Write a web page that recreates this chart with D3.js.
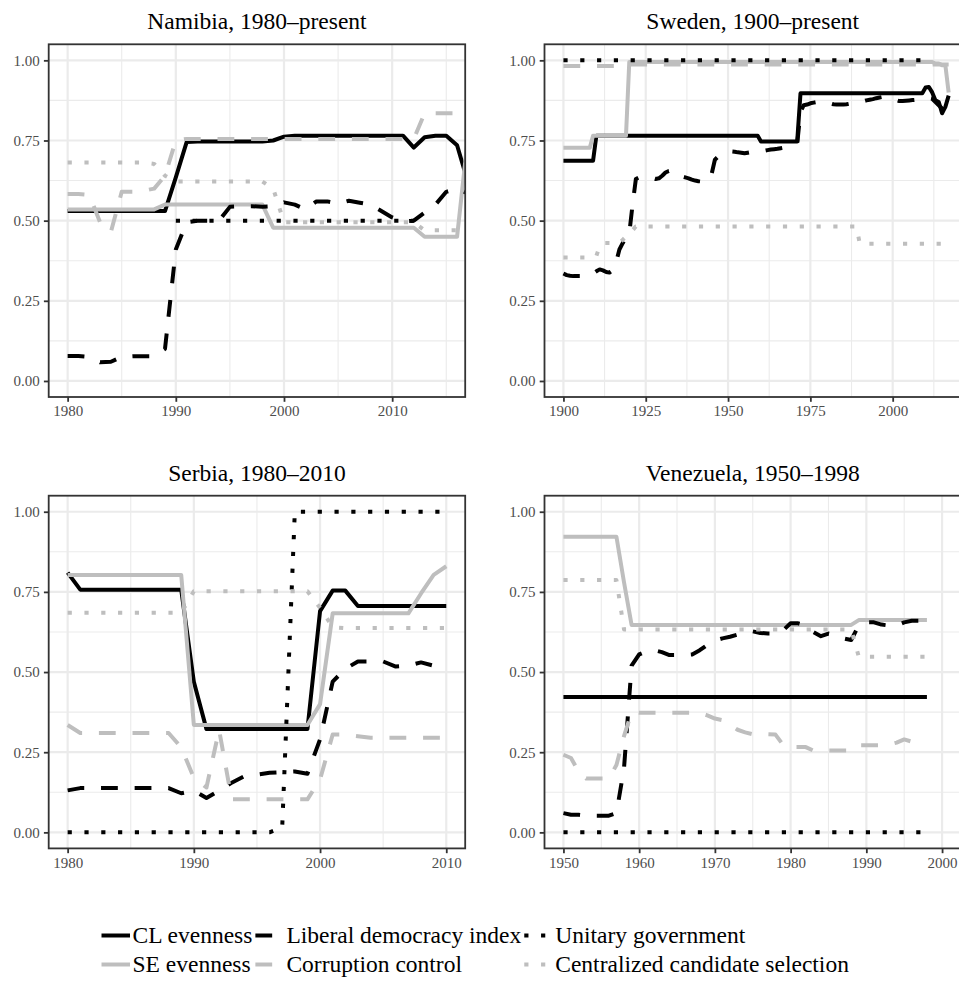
<!DOCTYPE html>
<html>
<head>
<meta charset="UTF-8">
<title>Evenness panels</title>
<script src="https://d3js.org/d3.v7.min.js"></script>
<style>
  body { margin: 0; background: #fff; }
  svg text { font-family: "Liberation Serif", "Times New Roman", serif; }
</style>
</head>
<body>
<div id="chart"></div>
<script>
(function(d3) {

    // series, in factor order (legend fills column by column)
    var seriesNames = ['CL evenness', 'SE evenness', 'Liberal democracy index',
        'Corruption control', 'Unitary government', 'Centralized candidate selection'];

    var yTicks = [0, 0.25, 0.5, 0.75, 1];

    // Namibia, yearly from 1980
    var namibiaStart = 1980;
    var namibiaTicks = [1980, 1990, 2000, 2010];
    var namibiaCL = [
        .53, .53, .53, .53, .53, .53, .53, .53, .53, .53,
        .635, .745, .747, .747, .747, .747, .747, .747, .747, .75,
        .762, .765, .765, .765, .765, .765, .765, .765, .765, .765,
        .765, .765, .728, .76, .765, .765, .735, .62];
    var namibiaSE = [
        .535, .535, .535, .535, .535, .535, .535, .535, .535, .55,
        .55, .55, .55, .55, .55, .55, .55, .55, .55, .478,
        .478, .478, .478, .478, .478, .478, .478, .478, .478, .478,
        .478, .478, .478, .45, .45, .45, .45, .76];
    var namibiaLDI = [
        .078, .078, .075, .058, .06, .075, .077, .077, .077, .10,
        .41, .495, .50, .50, .50, .543, .545, .545, .543, .545,
        .557, .55, .535, .56, .56, .553, .562, .556, .55, .53,
        .51, .498, .50, .525, .55, .59, .60, .585];
    var namibiaCorruption = [
        .583, .583, .58, .495, .465, .59, .59, .593, .60, .64,
        .75, .755, .755, .755, .755, .755, .755, .755, .755, .755,
        .755, .755, .755, .755, .755, .755, .755, .755, .755, .755,
        .755, .755, .755, .835, .835, .835, .835, .835];
    var namibiaUnitary = [
        null, null, null, null, null, null, null, null, null, null,
        .5, .5, .5, .5, .5, .5, .5, .5, .5, .5,
        .5, .5, .5, .5, .5, .5, .5, .5, .5, .5,
        .5, .5, .5, null, null, null, null, null];
    var namibiaCentralized = [
        .681, .681, .681, .681, .681, .681, .681, .681, .677, .64,
        .622, .622, .622, .622, .622, .622, .622, .622, .622, .60,
        .495, .495, .495, .495, .495, .495, .495, .495, .495, .495,
        .495, .495, .495, .47, .47, .47, .47, .45];

    // Sweden, yearly from 1900
    var swedenStart = 1900;
    var swedenTicks = [1900, 1925, 1950, 1975, 2000];
    var swedenCL = [
        .687, .687, .687, .687, .687, .687, .687, .687, .687, .687,
        .765, .765, .765, .765, .765, .765, .765, .765, .765, .765,
        .765, .765, .765, .765, .765, .765, .765, .765, .765, .765,
        .765, .765, .765, .765, .765, .765, .765, .765, .765, .765,
        .765, .765, .765, .765, .765, .765, .765, .765, .765, .765,
        .765, .765, .765, .765, .765, .765, .765, .765, .765, .765,
        .747, .747, .747, .747, .747, .747, .747, .747, .747, .747,
        .747, .747, .897, .897, .897, .897, .897, .897, .897, .897,
        .897, .897, .897, .897, .897, .897, .897, .897, .897, .897,
        .897, .897, .897, .897, .897, .897, .897, .897, .897, .897,
        .897, .897, .897, .897, .897, .897, .897, .897, .897, .897,
        .915, .917, .90, .875, .87, .835, .855, .89];
    var swedenSE = [
        .727, .727, .727, .727, .727, .727, .727, .727, .727, .765,
        .765, .765, .765, .765, .765, .765, .765, .765, .765, .765,
        .995, .995, .995, .995, .995, .995, .995, .995, .995, .995,
        .995, .995, .995, .995, .995, .995, .995, .995, .995, .995,
        .995, .995, .995, .995, .995, .995, .995, .995, .995, .995,
        .995, .995, .995, .995, .995, .995, .995, .995, .995, .995,
        .995, .995, .995, .995, .995, .995, .995, .995, .995, .995,
        .995, .995, .995, .995, .995, .995, .995, .995, .995, .995,
        .995, .995, .995, .995, .995, .995, .995, .995, .995, .995,
        .995, .995, .995, .995, .995, .995, .995, .995, .995, .995,
        .995, .995, .995, .995, .995, .995, .995, .995, .995, .995,
        .995, .995, .995, .99, .99, .985, .985, .90];
    var swedenLDI = [
        .335, .33, .328, .327, .327, .327, .327, .327, .33, .335,
        .342, .348, .345, .34, .338, .345, .37, .41, .43, .445,
        .46, .55, .63, .635, .636, .636, .635, .633, .63, .632,
        .64, .65, .655, .657, .652, .645, .638, .635, .632, .628,
        .625, .623, .622, .622, .625, .645, .69, .70, .706, .71,
        .715, .716, .715, .713, .712, .71, .712, .714, .715, .716,
        .717, .718, .72, .722, .723, .724, .726, .728, .73, .733,
        .736, .74, .84, .86, .862, .866, .868, .87, .87, .871,
        .87, .866, .863, .862, .862, .862, .863, .865, .866, .868,
        .87, .872, .875, .877, .879, .882, .884, .886, .886, .884,
        .88, .876, .873, .873, .874, .875, .876, .877, .878, .879,
        .88, .882, .88, .87, .86, .85, .865, .885];
    var swedenCorruption = [
        .982, .982, .982, .982, .982, .982, .982, .982, .982, .982,
        .982, .982, .982, .982, .982, .982, .982, .982, .982, .982,
        .987, .987, .987, .987, .987, .987, .987, .987, .987, .987,
        .987, .987, .987, .987, .987, .987, .987, .987, .987, .987,
        .987, .987, .987, .987, .987, .987, .987, .987, .987, .987,
        .987, .987, .987, .987, .987, .987, .987, .987, .987, .987,
        .987, .987, .987, .987, .987, .987, .987, .987, .987, .987,
        .987, .987, .987, .987, .987, .987, .987, .987, .987, .987,
        .987, .987, .987, .987, .987, .987, .987, .987, .987, .987,
        .987, .987, .987, .987, .987, .987, .987, .987, .987, .987,
        .987, .987, .987, .987, .987, .987, .987, .987, .987, .987,
        .987, .987, .987, .987, .987, .987, .987, .987];
    var swedenUnitary = [
        1, 1, 1, 1, 1, 1, 1, 1, 1, 1,
        1, 1, 1, 1, 1, 1, 1, 1, 1, 1,
        1, 1, 1, 1, 1, 1, 1, 1, 1, 1,
        1, 1, 1, 1, 1, 1, 1, 1, 1, 1,
        1, 1, 1, 1, 1, 1, 1, 1, 1, 1,
        1, 1, 1, 1, 1, 1, 1, 1, 1, 1,
        1, 1, 1, 1, 1, 1, 1, 1, 1, 1,
        1, 1, 1, 1, 1, 1, 1, 1, 1, 1,
        1, 1, 1, 1, 1, 1, 1, 1, 1, 1,
        1, 1, 1, 1, 1, 1, 1, 1, 1, 1,
        1, 1, 1, 1, 1, 1, 1, 1, 1, 1,
        1, 1, 1, null, null, null, null, null];
    var swedenCentralized = [
        .385, .385, .385, .385, .385, .385, .385, .385, .385, .385,
        .39, .42, .43, .43, .43, .43, .43, .43, .44, .45,
        .456, .47, .482, .482, .482, .482, .482, .482, .482, .482,
        .482, .482, .482, .482, .482, .482, .482, .482, .482, .482,
        .482, .482, .482, .482, .482, .482, .482, .482, .482, .482,
        .482, .482, .482, .482, .482, .482, .482, .482, .482, .482,
        .482, .482, .482, .482, .482, .482, .482, .482, .482, .482,
        .482, .482, .482, .482, .482, .482, .482, .482, .482, .482,
        .482, .482, .482, .482, .482, .482, .482, .482, .482, .482,
        .428, .428, .428, .428, .428, .428, .428, .428, .428, .428,
        .428, .428, .428, .428, .428, .428, .428, .428, .428, .428,
        .428, .428, .428, .428, .428, .428, .428, .425];

    // Serbia, yearly from 1980
    var serbiaStart = 1980;
    var serbiaTicks = [1980, 1990, 2000, 2010];
    var serbiaCL = [
        .81, .757, .757, .757, .757, .757, .757, .757, .757, .757,
        .47, .322, .322, .322, .322, .322, .322, .322, .322, .322,
        .69, .754, .754, .706, .706, .706, .706, .706, .706, .706,
        .706];
    var serbiaSE = [
        .803, .803, .803, .803, .803, .803, .803, .803, .803, .803,
        .335, .335, .335, .335, .335, .335, .335, .335, .335, .335,
        .40, .683, .683, .683, .683, .683, .683, .683, .745, .803,
        .83];
    var serbiaLDI = [
        .131, .138, .138, .138, .138, .138, .138, .138, .138, .122,
        .13, .107, .13, .155, .175, .18, .186, .188, .19, .183,
        .29, .47, .51, .533, .533, .533, .517, .52, .53, .52,
        .505];
    var serbiaCorruption = [
        .335, .31, .31, .31, .31, .31, .31, .31, .31, .265,
        .17, .14, .32, .103, .103, .103, .103, .103, .103, .103,
        .165, .305, .305, .30, .295, .295, .295, .295, .295, .295,
        .295];
    var serbiaUnitary = [
        0, 0, 0, 0, 0, 0, 0, 0, 0, 0,
        0, 0, 0, 0, 0, 0, 0, .015, 1, 1,
        1, 1, 1, 1, 1, 1, 1, 1, 1, 1,
        1];
    var serbiaCentralized = [
        .685, .685, .685, .685, .685, .685, .685, .685, .685, .685,
        .752, .752, .752, .752, .752, .752, .752, .752, .752, .752,
        .70, .64, .637, .637, .637, .637, .637, .637, .637, .637,
        .637];

    // Venezuela, yearly from 1950
    var venezuelaStart = 1950;
    var venezuelaTicks = [1950, 1960, 1970, 1980, 1990, 2000];
    var venezuelaCL = [
        .422, .422, .422, .422, .422, .422, .422, .422, .422, .422,
        .422, .422, .422, .422, .422, .422, .422, .422, .422, .422,
        .422, .422, .422, .422, .422, .422, .422, .422, .422, .422,
        .422, .422, .422, .422, .422, .422, .422, .422, .422, .422,
        .422, .422, .422, .422, .422, .422, .422, .422, .422];
    var venezuelaSE = [
        .922, .922, .922, .922, .922, .922, .922, .922, .78, .647,
        .647, .647, .647, .647, .647, .647, .647, .647, .647, .647,
        .647, .647, .647, .647, .647, .647, .647, .647, .647, .647,
        .647, .647, .647, .647, .647, .647, .647, .647, .647, .662,
        .662, .662, .662, .662, .662, .662, .662, .662, .662];
    var venezuelaLDI = [
        .06, .055, .055, .052, .052, .052, .052, .06, .20, .52,
        .555, .565, .568, .562, .553, .553, .553, .555, .568, .585,
        .598, .605, .61, .617, .625, .627, .622, .62, .62, .63,
        .652, .652, .645, .625, .612, .62, .615, .605, .60, .645,
        .655, .655, .648, .645, .645, .655, .66, .66, .66];
    var venezuelaCorruption = [
        .242, .232, .19, .168, .168, .168, .168, .21, .30, .375,
        .373, .373, .373, .373, .373, .373, .373, .373, .373, .365,
        .355, .35, .335, .32, .312, .306, .306, .306, .305, .273,
        .266, .266, .266, .255, .255, .255, .255, .255, .255, .272,
        .272, .272, .272, .274, .28, .29, .283, .283, .283];
    var venezuelaUnitary = [
        0, 0, 0, 0, 0, 0, 0, 0, 0, 0,
        0, 0, 0, 0, 0, 0, 0, 0, 0, 0,
        0, 0, 0, 0, 0, 0, 0, 0, 0, 0,
        0, 0, 0, 0, 0, 0, 0, 0, 0, 0,
        0, 0, 0, 0, 0, 0, 0, 0, 0];
    var venezuelaCentralized = [
        .787, .787, .787, .787, .787, .787, .787, .787, .633, .633,
        .633, .633, .633, .633, .633, .633, .633, .633, .633, .633,
        .633, .633, .633, .633, .633, .633, .633, .633, .633, .633,
        .633, .633, .633, .633, .633, .633, .633, .633, .633, .548,
        .548, .548, .548, .548, .548, .548, .548, .548, .548];

    var panels = [
        { title: 'Namibia, 1980\u2013present', start: namibiaStart, xlim: [1980, 2015], ticks: namibiaTicks,
          series: [namibiaCL, namibiaSE, namibiaLDI, namibiaCorruption, namibiaUnitary, namibiaCentralized] },
        { title: 'Sweden, 1900\u2013present', start: swedenStart, xlim: [1900, 2015], ticks: swedenTicks,
          series: [swedenCL, swedenSE, swedenLDI, swedenCorruption, swedenUnitary, swedenCentralized] },
        { title: 'Serbia, 1980\u20132010', start: serbiaStart, xlim: [1980, 2010], ticks: serbiaTicks,
          series: [serbiaCL, serbiaSE, serbiaLDI, serbiaCorruption, serbiaUnitary, serbiaCentralized] },
        { title: 'Venezuela, 1950\u20131998', start: venezuelaStart, xlim: [1950, 2000], ticks: venezuelaTicks,
          series: [venezuelaCL, venezuelaSE, venezuelaLDI, venezuelaCorruption, venezuelaUnitary, venezuelaCentralized] }
    ];

    var black = '#000000', grey = '#bebebe';
    var seriesColor = [black, grey, black, grey, black, grey];
    var seriesDash = [null, null, '16.8,16.8', '16.8,16.8', '4.2,12.6', '4.2,12.6'];
    var lineWidth = 4;

    var width = 959, height = 983;
    var panelW = 416.5, panelH = 352.7;
    var colLeft = [48.7, 544.5];
    var rowTop = [44.3, 495.7];

    var svg = d3.select('#chart')
        .append('svg')
            .attr('width', width)
            .attr('height', height)
            .style('display', 'block');

    svg.append('rect')
        .attr('width', width)
        .attr('height', height)
        .attr('fill', '#ffffff');

    var y = d3.scaleLinear()
        .domain([-0.05, 1.05])
        .range([panelH, 0]);

    function minorBreaks(major, lo, hi) {
        var step = major[1] - major[0];
        var out = [major[0] - step / 2];
        major.forEach(function(t) { out.push(t + step / 2); });
        return out.filter(function(t) { return t >= lo && t <= hi; });
    }

    panels.forEach(function(p, i) {
        var left = colLeft[i % 2];
        var top = rowTop[Math.floor(i / 2)];
        var span = p.xlim[1] - p.xlim[0];
        var x = d3.scaleLinear()
            .domain([p.xlim[0] - 0.05 * span, p.xlim[1] + 0.05 * span])
            .range([0, panelW]);
        var xMajor = p.ticks.filter(function(t) { return t >= x.domain()[0] && t <= x.domain()[1]; });

        var g = svg.append('g')
            .attr('transform', 'translate(' + left + ',' + top + ')');

        g.append('rect')
            .attr('width', panelW)
            .attr('height', panelH)
            .attr('fill', '#ffffff');

        // minor grid
        g.selectAll('.xminor')
            .data(minorBreaks(xMajor, x.domain()[0], x.domain()[1]))
            .enter().append('line')
            .attr('x1', x).attr('x2', x)
            .attr('y1', 0).attr('y2', panelH)
            .attr('stroke', '#ebebeb').attr('stroke-width', 1.1);
        g.selectAll('.yminor')
            .data(minorBreaks(yTicks, -0.05, 1.05))
            .enter().append('line')
            .attr('y1', y).attr('y2', y)
            .attr('x1', 0).attr('x2', panelW)
            .attr('stroke', '#ebebeb').attr('stroke-width', 1.1);

        // major grid
        g.selectAll('.xmajor')
            .data(xMajor)
            .enter().append('line')
            .attr('x1', x).attr('x2', x)
            .attr('y1', 0).attr('y2', panelH)
            .attr('stroke', '#ebebeb').attr('stroke-width', 2.2);
        g.selectAll('.ymajor')
            .data(yTicks)
            .enter().append('line')
            .attr('y1', y).attr('y2', y)
            .attr('x1', 0).attr('x2', panelW)
            .attr('stroke', '#ebebeb').attr('stroke-width', 2.2);

        var clipId = 'clip' + i;
        g.append('clipPath')
            .attr('id', clipId)
          .append('rect')
            .attr('width', panelW)
            .attr('height', panelH);

        var line = d3.line()
            .defined(function(d) { return d.v !== null; })
            .x(function(d) { return x(d.year); })
            .y(function(d) { return y(d.v); });

        var lines = g.append('g').attr('clip-path', 'url(#' + clipId + ')');
        p.series.forEach(function(vals, k) {
            var pts = vals.map(function(v, j) { return { year: p.start + j, v: v }; });
            lines.append('path')
                .datum(pts)
                .attr('d', line)
                .attr('fill', 'none')
                .attr('stroke', seriesColor[k])
                .attr('stroke-width', lineWidth)
                .attr('stroke-linejoin', 'round')
                .attr('stroke-linecap', 'butt')
                .attr('stroke-dasharray', seriesDash[k]);
        });

        g.append('rect')
            .attr('width', panelW)
            .attr('height', panelH)
            .attr('fill', 'none')
            .attr('stroke', '#333333')
            .attr('stroke-width', 1.8);

        var xAxis = g.append('g')
            .attr('transform', 'translate(0,' + panelH + ')')
            .call(d3.axisBottom(x).tickValues(xMajor).tickFormat(d3.format('d'))
                .tickSize(4.8).tickPadding(4));
        var yAxis = g.append('g')
            .call(d3.axisLeft(y).tickValues(yTicks).tickFormat(d3.format('.2f'))
                .tickSize(4.8).tickPadding(4.2));

        [xAxis, yAxis].forEach(function(ax) {
            ax.select('.domain').remove();
            ax.selectAll('line').attr('stroke', '#333333').attr('stroke-width', 1.8);
            ax.selectAll('text')
                .attr('fill', '#4d4d4d')
                .style('font-size', '15px')
                .style('font-family', '"Liberation Serif", "Times New Roman", serif');
        });

        g.append('text')
            .attr('x', panelW / 2)
            .attr('y', -15)
            .attr('text-anchor', 'middle')
            .attr('fill', '#000000')
            .style('font-size', '23.5px')
            .text(p.title);
    });

    // legend: two rows, filled column by column
    var keyW = 28.5;
    var rowY = [935.5, 964.5];
    var legend = svg.append('g').attr('class', 'legend');
    var colX = 101.5;
    for (var c = 0; c < 3; c++) {
        var maxW = 0;
        for (var r = 0; r < 2; r++) {
            var k = c * 2 + r;
            legend.append('line')
                .attr('x1', colX).attr('x2', colX + keyW)
                .attr('y1', rowY[r]).attr('y2', rowY[r])
                .attr('stroke', seriesColor[k])
                .attr('stroke-width', lineWidth)
                .attr('stroke-dasharray', seriesDash[k]);
            var t = legend.append('text')
                .attr('x', colX + keyW + 2.5)
                .attr('y', rowY[r] + 7.8)
                .attr('fill', '#000000')
                .style('font-size', '23.5px')
                .text(seriesNames[k]);
            maxW = Math.max(maxW, t.node().getComputedTextLength());
        }
        colX += keyW + 2.5 + maxW + 3;
    }

})(window.d3);
</script>
</body>
</html>
